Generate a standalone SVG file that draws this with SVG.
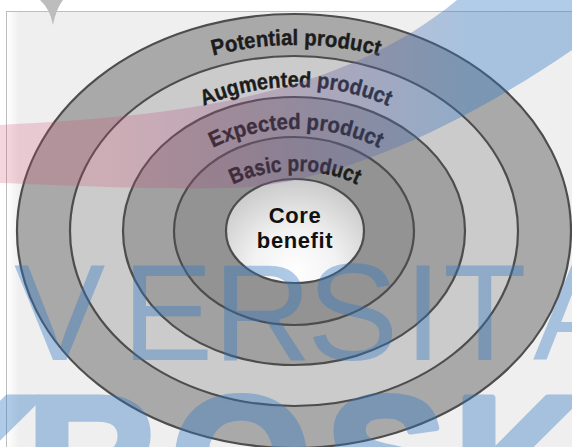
<svg xmlns="http://www.w3.org/2000/svg" width="572" height="447" viewBox="0 0 572 447">
  <style>
    .ring { stroke: #4d4d4d; stroke-width: 2.2; }
    .label { font-family: "Liberation Sans", Arial, sans-serif; font-weight: bold; font-size: 22px; fill: #1c1c1c; stroke: #1c1c1c; stroke-width: 0.4px; }
    .core { font-family: "Liberation Sans", Arial, sans-serif; font-weight: bold; font-size: 22px; fill: #111; letter-spacing: 0.6px; text-anchor: middle; }
    .mark { fill: #2f78c4; }
  </style>
  <defs>
    <radialGradient id="coreFill" gradientUnits="userSpaceOnUse" cx="295" cy="272" r="95">
      <stop offset="0" stop-color="#ffffff"/>
      <stop offset="0.45" stop-color="#f2f2f2"/>
      <stop offset="1" stop-color="#c8c8c8"/>
    </radialGradient>
    <linearGradient id="edgeGlow" x1="0" y1="0" x2="1" y2="0">
      <stop offset="0" stop-color="#ffffff"/>
      <stop offset="1" stop-color="#efefef"/>
    </linearGradient>
    <linearGradient id="swooshFill" gradientUnits="userSpaceOnUse" x1="110" y1="0" x2="470" y2="0">
      <stop offset="0" stop-color="#d2466e" stop-opacity="0.23"/>
      <stop offset="0.5" stop-color="#7a5a94" stop-opacity="0.32"/>
      <stop offset="1" stop-color="#2f78c4" stop-opacity="0.38"/>
    </linearGradient>
    <!-- baselines for the ring labels -->
    <path id="arcPotential" d="M46,233 A250 188 0 0 1 546,233"/>
    <path id="arcAugmented" d="M109,234 A187 147 0 0 1 483,234"/>
    <path id="arcExpected" d="M151,234 A145 105 0 0 1 441,234"/>
    <path id="arcBasic" d="M195,234 A100 63 0 0 1 395,234"/>
  </defs>

  <!-- page and frame -->
  <rect x="0" y="0" width="572" height="447" fill="#ffffff"/>
  <rect x="6.5" y="11.5" width="570" height="440" fill="#efefef" stroke="#bdbdbd" stroke-width="1"/>
  <rect x="7" y="12" width="12" height="435" fill="url(#edgeGlow)"/>

  <!-- concentric product levels -->
  <g id="potential-product">
    <ellipse class="ring" cx="294" cy="231" rx="277" ry="217" fill="#a9a9a9"/>
    <text class="label"><textPath href="#arcPotential" startOffset="50%" text-anchor="middle" textLength="168" lengthAdjust="spacingAndGlyphs">Potential product</textPath></text>
  </g>
  <g id="augmented-product">
    <ellipse class="ring" cx="294" cy="231" rx="224" ry="175" fill="#cbcbcb"/>
    <text class="label"><textPath href="#arcAugmented" startOffset="50%" text-anchor="middle" textLength="190" lengthAdjust="spacingAndGlyphs">Augmented product</textPath></text>
  </g>
  <g id="expected-product">
    <ellipse class="ring" cx="294" cy="231" rx="171" ry="134" fill="#a1a1a1"/>
    <text class="label"><textPath href="#arcExpected" startOffset="50%" text-anchor="middle" textLength="172" lengthAdjust="spacingAndGlyphs">Expected product</textPath></text>
  </g>
  <g id="basic-product">
    <ellipse class="ring" cx="294" cy="231" rx="120" ry="94" fill="#939393"/>
    <text class="label"><textPath href="#arcBasic" startOffset="50%" text-anchor="middle" textLength="128" lengthAdjust="spacingAndGlyphs">Basic product</textPath></text>
  </g>
  <g id="core-benefit">
    <ellipse class="ring" cx="295" cy="231" rx="69" ry="52" fill="url(#coreFill)"/>
    <text class="core" x="295" y="223">Core</text>
    <text class="core" x="295" y="248">benefit</text>
  </g>

  <!-- watermark overlay -->
  <g opacity="0.38">
    <text class="mark" font-family="'Liberation Sans', Arial, sans-serif" font-size="137" x="14 122 213 307 404 443 533" y="360">VERSITA</text>
    <text class="mark" font-family="'Liberation Sans', Arial, sans-serif" font-weight="bold" font-size="180" stroke="#2f78c4" stroke-width="7" stroke-linejoin="round" x="-86 27 171 326 454" y="522">KROSK</text>
  </g>
  <path d="M-2,125 C150,117 330,105 457,0 L572,0 L572,50 C470,120 340,185 230,188 C150,190 60,185 -2,183 Z" fill="url(#swooshFill)"/>
  <path d="M40,0 Q50,9 53,25 Q56,9 63,0 Z" fill="#bdbdbd"/>
</svg>
